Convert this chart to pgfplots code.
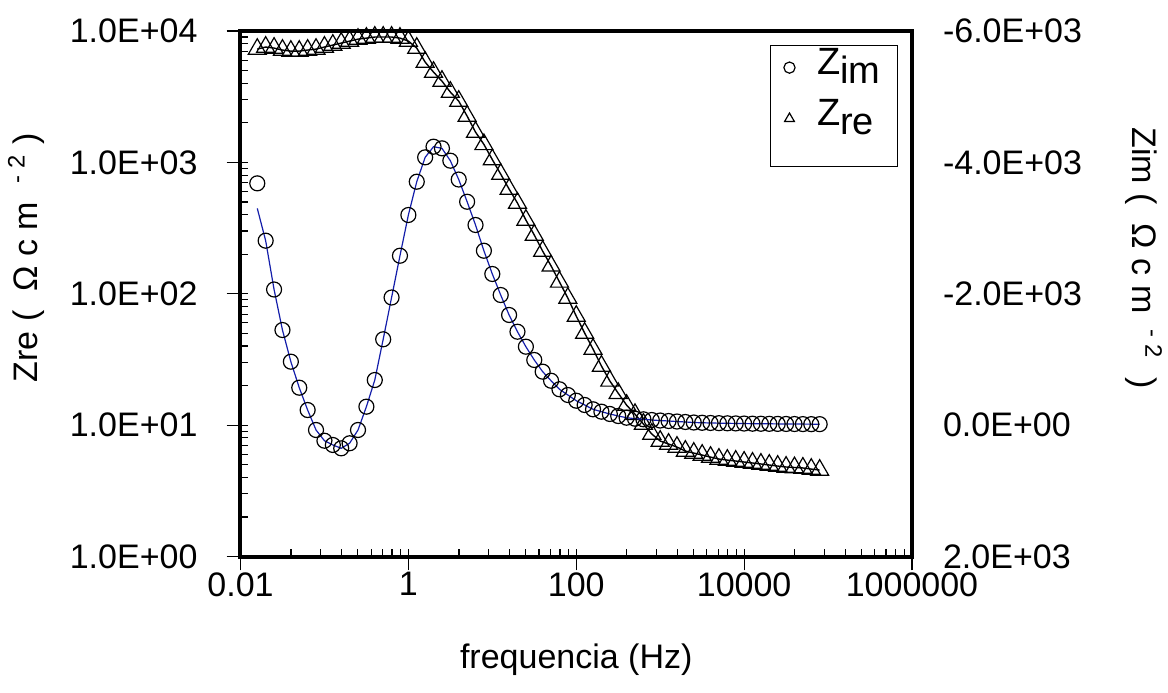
\documentclass[border=0pt]{standalone}
\usepackage{fontspec}
\setmainfont{Liberation Sans}
\usepackage{pgfplots}
\usepackage{pgfplotstable}
\pgfplotsset{compat=1.18}
% f, Zre (triangles, left log axis)
\pgfplotstableread{
f Zre
0.01585 7278
0.01995 7551
0.02512 7413
0.03162 7161
0.03981 7031
0.05012 7031
0.06310 7161
0.07943 7278
0.1 7551
0.1259 7816
0.1585 8091
0.1995 8378
0.2512 8673
0.3162 8830
0.3981 8994
0.5012 8994
0.6310 8994
0.7943 8830
1 8378
1.259 7413
1.585 5797
1.995 4864
2.512 4155
3.162 3428
3.981 2926
5.012 2250
6.310 1700
7.943 1370
10 1050
12.59 814
15.85 626
19.95 490
25.12 364
31.62 280
39.81 211
50.12 163
63.10 123
79.43 92.7
100 67.6
125.9 50.2
158.5 37.9
199.5 28.2
251.2 21.7
316.2 17.5
398.1 14.2
501.2 12.1
631.0 10.2
794.3 8.56
1000 7.57
1259 7.18
1585 6.81
1995 6.35
2512 6.13
3162 5.92
3981 5.71
5012 5.52
6310 5.42
7943 5.33
10000 5.24
12590 5.15
15850 5.06
19950 4.97
25120 4.88
31620 4.80
39810 4.76
50120 4.72
63100 4.63
79430 4.55
}\zre
% f, Zim (circles, right linear axis)
\pgfplotstableread{
f Zim
0.01585 -3681
0.01995 -2808
0.02512 -2065
0.03162 -1448
0.03981 -966
0.05012 -570
0.06310 -230
0.07943 74
0.1 237
0.1259 302
0.1585 353
0.1995 276
0.2512 74
0.3162 -281
0.3981 -687
0.5012 -1307
0.6310 -1943
0.7943 -2579
1 -3199
1.259 -3706
1.585 -4077
1.995 -4239
2.512 -4214
3.162 -4026
3.981 -3739
5.012 -3401
6.310 -3047
7.943 -2655
10 -2301
12.59 -1981
15.85 -1677
19.95 -1422
25.12 -1194
31.62 -992
39.81 -814
50.12 -676
63.10 -546
79.43 -459
100 -372
125.9 -307
158.5 -241
199.5 -205
251.2 -170
316.2 -139
398.1 -113
501.2 -98
631.0 -89
794.3 -78
1000 -70
1259 -63
1585 -55
1995 -48
2512 -40
3162 -36
3981 -33
5012 -30
6310 -28
7943 -26
10000 -24
12590 -22
15850 -21
19950 -20
25120 -19
31620 -18
39810 -17
50120 -16
63100 -15
79430 -15
}\zim
% fitted curve for Zim
\pgfplotstableread{
f Zim
0.01585 -3300
0.01995 -2808
0.02512 -2065
0.03162 -1448
0.03981 -966
0.05012 -570
0.06310 -230
0.07943 74
0.1 237
0.1259 302
0.1585 353
0.1995 276
0.2512 74
0.3162 -281
0.3981 -687
0.5012 -1307
0.6310 -1943
0.7943 -2579
1 -3199
1.259 -3706
1.585 -4077
1.995 -4239
2.512 -4214
3.162 -4026
3.981 -3739
5.012 -3401
6.310 -3047
7.943 -2655
10 -2301
12.59 -1981
15.85 -1677
19.95 -1422
25.12 -1194
31.62 -992
39.81 -814
50.12 -676
63.10 -546
79.43 -459
100 -372
125.9 -307
158.5 -241
199.5 -205
251.2 -170
316.2 -139
398.1 -113
501.2 -98
631.0 -89
794.3 -78
1000 -70
1259 -63
1585 -55
1995 -48
2512 -40
3162 -36
3981 -33
5012 -30
6310 -28
7943 -26
10000 -24
12590 -22
15850 -21
19950 -20
25120 -19
31620 -18
39810 -17
50120 -16
63100 -15
79430 -15
}\zimfit
\definecolor{fitblue}{RGB}{20,30,170}
\begin{document}
\begin{tikzpicture}
\useasboundingbox (-120.25pt,-67.75pt) rectangle (463.75pt,278.25pt);
\begin{axis}[
  at={(0pt,0pt)}, anchor=south west,
  scale only axis, width=335.75pt, height=262.75pt,
  xmode=log, ymode=log,
  xmin=0.01, xmax=1000000, ymin=1, ymax=10000,
  axis line style={line width=2pt},
  xtick={0.01,1,100,10000,1000000},
  xticklabels={0.01,1,100,10000,1000000},
  ytick={1,10,100,1000,10000},
  yticklabels={1.0E+00,1.0E+01,1.0E+02,1.0E+03,1.0E+04},
  minor xtick={0.04,0.09,0.16,0.25,0.36,0.49,0.64,0.81,1,4,9,16,25,36,49,64,81,100,400,900,1600,2500,3600,4900,6400,8100,10000,40000,90000,160000,250000,360000,490000,640000,810000},
  minor ytick={2,3,4,5,6,7,8,9,10,20,30,40,50,60,70,80,90,100,200,300,400,500,600,700,800,900,1000,2000,3000,4000,5000,6000,7000,8000,9000},
  tick align=outside, xtick pos=left, ytick pos=left,
  major tick length=7pt, minor tick length=4pt,
  tick style={black, line width=0.6pt},
  minor x tick style={yshift=4pt},
  minor y tick style={xshift=4pt},
  ticklabel style={font=\fontsize{17}{20}\selectfont},
  xticklabel style={yshift=2.5pt},
  yticklabel style={xshift=-11pt},
  xlabel={frequencia (Hz)},
  ylabel={Zre (\ \ Ω c m \ \textsuperscript{- 2} )},
  label style={font=\fontsize{17}{20}\selectfont},
  xlabel style={at={(axis description cs:0.5,-0.197)}, anchor=center},
  ylabel style={at={(axis description cs:-0.3194,0.568)}, anchor=center},
]
\addplot[black, line width=0.7pt] table[x=f,y=Zre]{\zre};
\addplot[only marks, mark=triangle, mark size=5.2pt, mark options={black, line width=0.6pt, fill=none}] table[x=f,y=Zre]{\zre};
\end{axis}
\begin{axis}[
  at={(0pt,0pt)}, anchor=south west,
  scale only axis, width=335.75pt, height=262.75pt,
  xmode=log, xmin=0.01, xmax=1000000,
  ymin=-6000, ymax=2000, y dir=reverse,
  hide x axis, axis y line*=right, y axis line style={draw=none},
  ytick={-6000,-4000,-2000,0,2000},
  yticklabels={-6.0E+03,-4.0E+03,-2.0E+03,0.0E+00,2.0E+03},
  major tick length=0pt, ytick pos=right,
  ticklabel style={font=\fontsize{17}{20}\selectfont},
  yticklabel style={anchor=west, xshift=12pt},
  ylabel={Zim (\ \ Ω c m \textsuperscript{\ - 2} \ )},
  label style={font=\fontsize{17}{20}\selectfont},
  ylabel style={at={(axis description cs:1.3455,0.568)}, anchor=center, rotate=180},
  legend cell align=left,
  legend image code/.code={\draw[#1, mark size=2.8pt, yshift=6.5pt] plot coordinates {(0pt,0pt)};},
  legend style={at={(1,1)}, anchor=north east, xshift=-7pt, yshift=-7pt,
    draw=black, line width=0.6pt, inner xsep=6.5pt, inner ysep=4.75pt, row sep=0pt,
    column sep=9pt,
    font=\fontsize{19}{22}\selectfont,
    nodes={text height=7.8pt, text depth=13.7pt}},
]
\addplot[fitblue, line width=0.6pt, forget plot] table[x=f,y=Zim]{\zimfit};
\addplot[only marks, mark=o, mark size=3.75pt, mark options={black, line width=0.6pt}] table[x=f,y=Zim]{\zim};
\addlegendentry{Z\raisebox{-4.5pt}{im}}
\addlegendimage{only marks, mark=triangle, mark options={black, line width=0.6pt}}
\addlegendentry{Z\raisebox{-4.5pt}{re}}
\end{axis}
\end{tikzpicture}
\end{document}
